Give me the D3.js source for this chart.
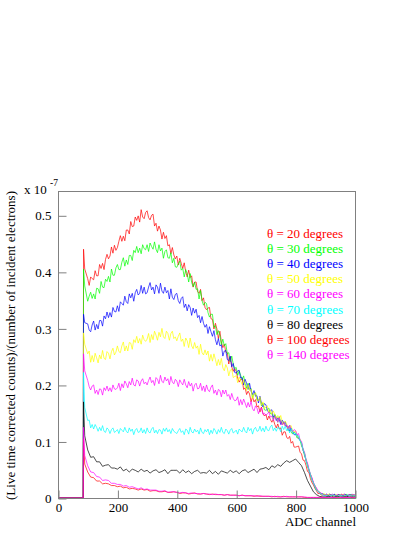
<!DOCTYPE html>
<html><head><meta charset="utf-8">
<script src="https://cdn.jsdelivr.net/npm/d3@7"></script>
<style>
body{margin:0;background:#fff}
svg{display:block}
svg text{font-family:"Liberation Serif","Times New Roman",Times,"DejaVu Serif",serif !important}
</style>
</head><body>
<svg id="chart" width="415" height="537"></svg>
<script>
// ADC channel grids (bin positions): fine grid for the noisy spectra, coarse grid for the smooth ones
const channelsFine = [0, 85, 86, 90].concat(d3.range(100, 1001, 5));
const channelsCoarse = [0, 85, 86, 90].concat(d3.range(100, 1001, 10));

// Series values in units of 1e-10 (thousandths of the 10^-7 axis unit)
const deg20 = [0,0,440,405,
 388,376,391,388,386,402,393,393,413,406,415,404,422,431,423,428,444,433,447,438,
 443,454,464,454,463,455,474,474,467,489,480,481,497,491,499,488,510,497,494,505,
 508,496,492,500,502,481,486,472,481,474,458,470,459,464,446,448,432,443,430,423,
 428,412,424,415,406,416,400,391,403,390,393,373,382,382,365,362,369,349,354,337,
 333,336,337,317,316,299,309,299,282,295,276,266,272,258,257,237,250,232,224,229,
 224,212,205,210,210,192,195,183,189,184,170,179,170,174,161,163,152,161,150,145,
 148,138,145,139,134,139,130,124,131,122,124,111,117,117,107,105,109,97,100,90,
 90,91,92,81,78,67,66,58,47,45,34,27,23,17,13,8,8,6,4,6,
 5,6,4,7,5,3,6,5,4,6,5,7,4,5,6,3,5,6,4,5, 4];
const deg30 = [0,0,405,375,
 348,357,364,353,361,352,371,370,362,383,373,372,387,383,392,382,405,394,394,407,
 413,404,404,417,425,410,421,413,429,429,420,438,434,445,434,442,432,448,441,439,
 448,436,451,445,440,453,440,434,448,437,442,424,436,439,425,424,434,416,424,409,
 408,414,419,403,406,391,404,397,382,397,381,374,382,369,370,352,367,349,341,346,
 344,328,320,325,325,302,305,289,296,288,271,281,269,273,255,257,241,251,237,229,
 231,217,225,217,209,216,202,194,203,192,194,177,185,186,173,172,178,163,168,156,
 155,157,159,149,150,140,148,143,134,144,134,130,135,128,129,119,128,117,113,117,
 114,106,107,103,92,87,75,68,56,49,41,32,27,20,14,13,9,7,7,7,
 6,4,5,7,5,4,6,5,4,6,5,4,6,5,7,4,5,6,4,5, 5];
const deg40 = [0,0,325,310,
 308,297,294,306,313,297,307,299,314,314,304,322,317,329,319,328,320,337,330,329,
 340,330,347,344,341,357,347,344,361,354,362,348,363,369,359,362,376,362,373,361,
 363,373,381,368,373,361,377,373,362,380,366,362,373,363,367,352,370,355,351,360,
 362,349,344,353,356,337,343,331,342,337,323,336,327,334,319,323,310,321,309,302,
 307,291,303,294,286,296,280,271,282,269,271,251,260,261,245,243,251,232,238,222,
 221,225,226,212,213,200,210,203,192,203,189,183,190,180,181,168,180,167,161,167,
 165,155,151,155,156,143,146,137,142,139,130,138,131,135,126,127,118,124,117,112,
 112,112,105,102,97,84,78,66,60,48,41,35,26,22,16,12,11,8,8,5,
 5,7,5,4,6,5,7,4,5,6,5,6,4,7,5,4,6,5,7,5, 5];
const deg50 = [0,0,292,272,
 255,260,240,252,241,256,248,239,253,246,261,247,245,259,256,246,259,265,253,258,
 269,259,257,269,276,260,269,260,275,274,263,280,275,286,274,282,272,288,280,277,
 281,291,275,289,280,295,288,279,293,285,300,285,282,295,291,279,291,295,282,285,
 278,286,292,277,281,268,283,278,266,283,269,264,275,265,269,254,272,257,253,262,
 253,260,242,254,242,255,245,234,245,235,247,230,225,236,230,216,226,228,213,215,
 216,204,214,207,201,209,197,190,200,190,192,176,184,186,173,172,179,164,170,158,
 161,163,151,156,148,154,148,140,146,139,146,134,130,136,131,122,127,128,118,117,
 119,111,106,104,97,85,80,67,60,48,43,34,26,22,16,12,11,8,6,7,
 6,5,7,4,5,6,4,6,5,4,6,5,7,5,4,6,5,4,6,5, 5];
const deg60 = [0,0,255,225,
 208,197,191,198,200,185,191,183,193,192,182,195,190,198,189,195,188,200,193,192,
 195,203,190,202,195,207,202,195,206,200,212,200,198,209,207,198,207,211,202,205,
 200,208,214,204,208,199,213,210,202,217,206,204,214,207,211,200,215,205,202,210,
 207,197,209,204,200,210,200,195,206,198,203,189,200,203,193,194,203,190,198,188,
 200,191,188,196,200,185,191,182,192,190,179,191,184,191,180,183,174,185,176,172,
 173,179,164,174,165,175,168,160,169,161,171,158,154,163,159,149,157,159,148,150,
 146,149,152,143,145,137,144,141,134,142,133,129,134,127,129,120,129,120,117,121,
 119,112,114,103,100,87,81,69,62,51,42,36,28,21,18,13,9,9,7,5,
 5,6,4,6,5,7,5,4,6,5,4,6,5,7,4,5,6,4,5,6, 5];
const deg70 = [0,0,222,160,
 137,138,124,130,122,130,125,118,125,119,128,118,116,124,121,114,121,124,116,118,
 121,114,123,120,117,125,118,115,124,118,122,112,120,123,116,117,124,115,121,114,
 124,117,115,122,125,115,120,114,121,120,113,123,118,124,117,121,114,123,118,116,
 114,119,123,116,119,112,122,120,113,125,117,115,122,117,120,113,124,116,114,121,
 117,122,112,120,114,123,119,113,121,116,125,116,114,122,119,113,120,123,115,117,
 120,113,122,119,117,125,118,115,125,119,123,113,122,125,118,119,127,118,124,117,
 127,120,119,126,129,119,124,118,125,124,117,127,121,127,119,123,115,123,117,113,
 115,109,110,101,97,86,79,68,57,51,41,32,27,20,14,12,10,7,5,5,
 4,5,3,5,4,6,4,5,3,4,5,4,3,5,4,6,4,5,3,4, 4];
const deg80 = [0,0,170,110,
 85,72,73,64,64,56,58,59,53,53,
 51,55,48,51,46,51,49,46,51,47,
 49,44,48,50,45,47,50,43,49,49,
 49,44,50,45,48,43,47,49,44,45,
 44,49,43,47,42,48,46,44,49,45,
 48,43,48,50,45,48,51,45,51,52,
 54,50,57,54,59,56,62,66,63,66,
 69,63,57,45,31,21,11,6,3,2,
 2,3,2,2,3,2,2,3,2,2, 2];
const deg100 = [0,0,105,60,
 46,37,36,30,30,25,26,25,22,22,
 20,21,18,19,16,17,16,14,16,14,
 15,12,13,13,11,11,12,10,10,11,
 10,8,9,9,7,8,9,7,7,8,
 7,6,7,6,6,6,5,6,5,5,
 5,4,5,4,4,4,3,4,3,3,
 3,3,2,3,2,2,3,2,2,2,
 2,2,2,1,1,1,1,1,1,1,
 1,1,0,1,1,0,1,1,0,1, 1];
const deg140 = [0,0,125,75,
 57,46,45,38,37,31,32,31,26,26,
 24,24,21,22,19,20,18,16,18,15,
 16,14,14,14,12,12,13,10,11,11,
 10,9,10,9,8,9,8,8,7,8,
 7,7,6,7,6,6,5,6,5,5,
 5,4,5,4,4,4,4,3,4,3,
 3,3,3,2,3,2,2,3,2,2,
 2,2,2,2,1,1,1,1,1,1,
 1,1,1,1,0,1,1,1,1,0, 1];

const angles = ["20","30","40","50","60","70","80","100","140"];
const seriesList = [deg20, deg30, deg40, deg50, deg60, deg70, deg80, deg100, deg140];
const colors = ["#ff0000","#00ff00","#0000ff","#ffff00","#ff00ff","#00ffff","#000000","#ff0000","#ff00ff"];
const xTicks = [0,200,400,600,800,1000];
const xMinor = d3.range(0,1001,50);
const yTicks = [0,0.1,0.2,0.3,0.4,0.5];
const yMinor = d3.range(0,0.54,0.025);

const FONT = '"Liberation Serif","Times New Roman",Times,"DejaVu Serif",serif';
const svg = d3.select("#chart").attr("font-family", FONT);
const L = 58, R = 355, T = 191, B = 498;
const x = d3.scaleLinear().domain([0,1000]).range([L,R]);
const y = d3.scaleLinear().domain([0,0.543]).range([B,T]);
const axisCol = "#808080";

// series
seriesList.forEach((s,k)=>{
  const grid = s.length === channelsFine.length ? channelsFine : channelsCoarse;
  const line = d3.line().x((d,i)=>x(grid[i])).y(d=>y(d/1000));
  svg.append("path").datum(s).attr("d", line)
    .attr("fill","none").attr("stroke",colors[k]).attr("stroke-width",0.7)
    .attr("stroke-linejoin","round");
});

// frame
svg.append("rect").attr("x",L+0.5).attr("y",T+0.5).attr("width",R-L).attr("height",B-T)
  .attr("fill","none").attr("stroke",axisCol).attr("stroke-width",1);

// x axis
const gx = svg.append("g").attr("transform",`translate(0.5,${B+0.5})`);
gx.call(d3.axisBottom(x).tickValues(xMinor).tickSize(-4).tickFormat(""));
gx.call(d3.axisBottom(x).tickValues(xTicks).tickSize(-8).tickPadding(4).tickFormat(d3.format("d")));
gx.attr("font-family", FONT);
gx.selectAll(".domain").remove();
gx.selectAll("line").attr("stroke",axisCol);
gx.selectAll("text").attr("font-size",13).attr("fill","#000").style("font-family",FONT);

// y axis
const gy = svg.append("g").attr("transform",`translate(${L+0.5},0.5)`);
gy.call(d3.axisLeft(y).tickValues(yMinor).tickSize(-4).tickFormat(""));
gy.call(d3.axisLeft(y).tickValues(yTicks).tickSize(-8).tickPadding(7).tickFormat(d=> d===0 ? "0" : d3.format(".1f")(d)));
gy.attr("font-family", FONT);
gy.selectAll(".domain").remove();
gy.selectAll("line").attr("stroke",axisCol);
gy.selectAll("text").attr("font-size",13).attr("fill","#000").style("font-family",FONT);

// titles
svg.append("text").attr("x",356).attr("y",526).attr("text-anchor","end")
  .attr("font-size",13).style("font-family",FONT).text("ADC channel");
svg.append("text").attr("transform","translate(15,191) rotate(-90)").attr("text-anchor","end")
  .attr("font-size",13).style("font-family",FONT).text("(Live time corrected counts)/(number of incident electrons)");
svg.append("text").attr("x",24).attr("y",194).attr("font-size",13).style("font-family",FONT).text("x 10");
svg.append("text").attr("x",50).attr("y",186).attr("font-size",9.5).style("font-family",FONT).text("-7");

// legend
angles.forEach((a,i)=>{
  svg.append("text").attr("x",267).attr("y",237.5+i*15.2).attr("font-size",13)
    .style("font-family",FONT)
    .attr("fill",colors[i]).text("\u03b8 = " + a + " degrees");
});
</script>
</body></html>
